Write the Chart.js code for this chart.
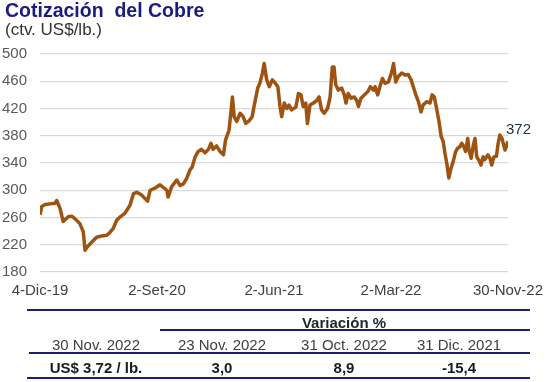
<!DOCTYPE html>
<html>
<head>
<meta charset="utf-8">
<script src="https://cdn.jsdelivr.net/npm/chart.js@4/dist/chart.umd.min.js"></script>
<style>
  html, body { margin:0; padding:0; background:#fff; }
  body { width:553px; height:382px; position:relative; overflow:hidden; font-family:"Liberation Sans", Arial, sans-serif; }
  #wrap { position:absolute; left:0; top:0; width:553px; height:310px; }
  .t { position:absolute; white-space:nowrap; }
  .c { position:absolute; white-space:nowrap; transform:translate(-50%,-50%); font-size:15px; }
  .ln { position:absolute; background:#1E1E6E; }
</style>
</head>
<body>
<div id="wrap"><canvas id="c" width="553" height="310"></canvas></div>
<div class="t" style="left:5px;top:-1px;font-size:19.5px;font-weight:bold;color:#1B1B80;">Cotización&nbsp; del Cobre</div>
<div class="t" style="left:5px;top:20px;font-size:17px;color:#333;">(ctv. US$/lb.)</div>
<div id="table"></div>
<script>
// ---- data (day offset from 4-Dic-19, copper price in US cents/lb) ----
const dayOffsets = [0,4,12,23,35,39,47,54,66,74,82,93,101,105,109,121,132,144,156,163,171,179,187,198,210,218,226,237,251,257,268,
280,296,299,307,319,327,334,342,350,355,362,369,377,385,393,399,404,412,420,428,433,441,446,449,453,459,467,474,480,488,495,500,508,513,519,523,529,535,542,548,
555,560,564,570,576,581,587,597,603,609,614,620,624,630,638,646,651,657,663,671,677,682,686,690,696,704,710,714,719,726,733,739,743,749,757,765,771,778,782,788,793,799,805,813,820,825,830,836,
844,852,859,866,871,877,883,889,894,902,910,915,920,926,931,936,941,945,949,954,959,964,970,975,980,984,989,993,998,1001,1006,1011,1015,1019,1024,1029,1034,1038,1045,1050,1054,1059,1065,1069,1073,1078,1085,1089,1092];
const copper = [264,276,279,280,281,285,273,254,261,262,258,251,239,212,216,224,231,233,234,238,244,256,261,266,278,295,297,293,284,300,303,
308,300,290,305,315,307,309,317,330,334,349,357,360,355,360,369,360,365,357,352,374,388,418,437,408,401,413,408,398,402,408,425,450,457,472,486,462,452,462,458,
452,423,408,428,420,425,418,422,442,440,423,428,398,425,428,432,437,418,413,420,437,481,481,455,447,450,440,428,442,435,437,432,423,435,440,445,452,447,452,440,452,464,457,459,472,486,459,467,
472,469,470,462,452,440,430,415,425,430,428,440,437,418,401,379,371,354,340,318,332,342,357,362,364,369,364,357,376,359,347,366,376,349,344,337,349,345,352,347,337,349,350,369,381,376,359,366,372];
const tickDays = [0,273,546,819,1092];
const tickLabels = ["4-Dic-19","2-Set-20","2-Jun-21","2-Mar-22","30-Nov-22"];
const lastLabel = "372";

// table
const tableHeader = "Variación %";
const tableDates = ["30 Nov. 2022","23 Nov. 2022","31 Oct. 2022","31 Dic. 2021"];
const tableValues = ["US$ 3,72 / lb.","3,0","8,9","-15,4"];

// ---- chart ----
const FONT = '"Liberation Sans", Arial, sans-serif';
const pts = dayOffsets.map((d,i)=>({x:d,y:copper[i]}));
const endLabel = {
  id:'endLabel',
  afterDatasetsDraw(chart){
    const meta = chart.getDatasetMeta(0);
    const p = meta.data[meta.data.length-1];
    const ctx = chart.ctx;
    ctx.save();
    ctx.font = '15px ' + FONT;
    ctx.fillStyle = '#1F2E40';
    ctx.textAlign = 'left';
    ctx.textBaseline = 'middle';
    ctx.fillText(lastLabel, p.x - 2, p.y - 11);
    ctx.restore();
  }
};
new Chart(document.getElementById('c'), {
  type:'line',
  data:{ datasets:[{ data:pts, borderColor:'#9E5311', borderWidth:3.5, pointRadius:0, tension:0, borderJoinStyle:'round' }] },
  options:{
    responsive:false, animation:false,
    layout:{ padding:{ left:0, right:45, top:54, bottom:0 } },
    plugins:{ legend:{display:false}, tooltip:{enabled:false} },
    scales:{
      x:{ type:'linear', min:0, max:1092,
          afterBuildTicks(s){ s.ticks = tickDays.map(v=>({value:v})); },
          afterFit(s){ s.height = 38; },
          grid:{ display:false }, border:{ display:false },
          ticks:{ autoSkip:false, maxRotation:0, padding:2, color:'#404040',
                  font:{ size:15, family:FONT },
                  callback(v){ const i = tickDays.indexOf(v); return i>=0 ? tickLabels[i] : ''; } } },
      y:{ min:180, max:500,
          afterFit(s){ s.width = 40; },
          grid:{ color:'#D9D9D9', lineWidth:1.2, drawTicks:false }, border:{ display:false },
          ticks:{ stepSize:40, padding:13, color:'#595959',
                  font:{ size:15, family:FONT } } }
    }
  },
  plugins:[endLabel]
});

// ---- table (HTML text) ----
const tb = document.getElementById('table');
function line(x1,x2,y,h){ const d=document.createElement('div'); d.className='ln'; d.style.left=x1+'px'; d.style.width=(x2-x1)+'px'; d.style.top=(y-h/2)+'px'; d.style.height=h+'px'; tb.appendChild(d); }
function txt(s,cx,cy,bold,color){ const d=document.createElement('div'); d.className='c'; d.textContent=s; d.style.left=cx+'px'; d.style.top=cy+'px'; d.style.fontWeight=bold?'bold':'normal'; d.style.color=color; tb.appendChild(d); }
line(27,530,310,2.5);
line(160,530,330,1.2);
line(29,530,353,1.8);
line(27,530,378,2.5);
const colX = [96,222,344,459];
txt(tableHeader,344,322,true,'#262626');
tableDates.forEach((s,i)=>txt(s,colX[i],344,false,'#404040'));
tableValues.forEach((s,i)=>txt(s,colX[i],367,true,'#1A1A1A'));
</script>
</body>
</html>
